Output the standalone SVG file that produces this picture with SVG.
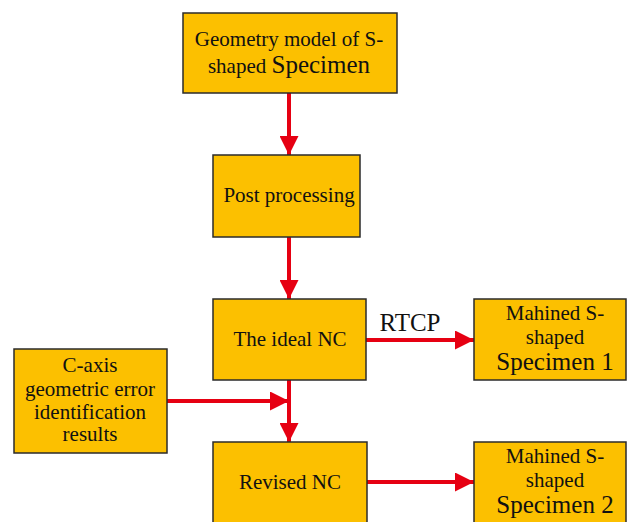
<svg xmlns="http://www.w3.org/2000/svg" width="627" height="522" viewBox="0 0 627 522">
  <style>
    .box { fill: #FCC000; stroke: #2b2b2b; stroke-width: 1.5; }
    .t { font-family: "Liberation Serif", "Times New Roman", serif; font-size: 21px; fill: #111; text-anchor: middle; }
    .big { font-size: 25px; }
    .link { stroke: #E60012; stroke-width: 4; fill: none; }
  </style>
  <defs>
    <marker id="ah" viewBox="0 0 10 10" refX="10" refY="5" markerUnits="userSpaceOnUse" markerWidth="28" markerHeight="19" orient="auto">
      <path d="M0,0 L10,5 L0,10 Z" fill="#E60012"/>
    </marker>
  </defs>

  <g id="connectors">
    <line class="link" x1="289" y1="93" x2="289" y2="155" marker-end="url(#ah)"/>
    <line class="link" x1="289" y1="237" x2="289" y2="299" marker-end="url(#ah)"/>
    <line class="link" x1="289" y1="380" x2="289" y2="442" marker-end="url(#ah)"/>
    <line class="link" x1="167" y1="401" x2="289" y2="401" marker-end="url(#ah)"/>
    <line class="link" x1="366" y1="340" x2="474" y2="340" marker-end="url(#ah)"/>
    <line class="link" x1="367" y1="482" x2="474" y2="482" marker-end="url(#ah)"/>
    <text class="t" x="410" y="331" style="font-size:25px">RTCP</text>
  </g>

  <g id="geometry-model">
    <rect class="box" x="183" y="13" width="214" height="80"/>
    <text class="t" x="289" y="46">Geometry model of S-</text>
    <text class="t" x="289" y="73">shaped <tspan class="big">Specimen</tspan></text>
  </g>

  <g id="post-processing">
    <rect class="box" x="213" y="155" width="147" height="82"/>
    <text class="t" x="289" y="202">Post processing</text>
  </g>

  <g id="ideal-nc">
    <rect class="box" x="213" y="299" width="153" height="81"/>
    <text class="t" x="290" y="346">The ideal NC</text>
  </g>

  <g id="c-axis-results">
    <rect class="box" x="14" y="349" width="153" height="104"/>
    <text class="t" x="90" y="372">C-axis</text>
    <text class="t" x="90" y="396">geometric error</text>
    <text class="t" x="90" y="419">identification</text>
    <text class="t" x="90" y="441">results</text>
  </g>

  <g id="revised-nc">
    <rect class="box" x="213" y="442" width="154" height="90"/>
    <text class="t" x="290" y="489">Revised NC</text>
  </g>

  <g id="specimen-1">
    <rect class="box" x="474" y="299" width="152" height="81"/>
    <text class="t" x="555" y="320">Mahined S-</text>
    <text class="t" x="555" y="344">shaped</text>
    <text class="t big" x="555" y="370">Specimen 1</text>
  </g>

  <g id="specimen-2">
    <rect class="box" x="474" y="442" width="152" height="90"/>
    <text class="t" x="555" y="463">Mahined S-</text>
    <text class="t" x="555" y="487">shaped</text>
    <text class="t big" x="555" y="513">Specimen 2</text>
  </g>
</svg>
